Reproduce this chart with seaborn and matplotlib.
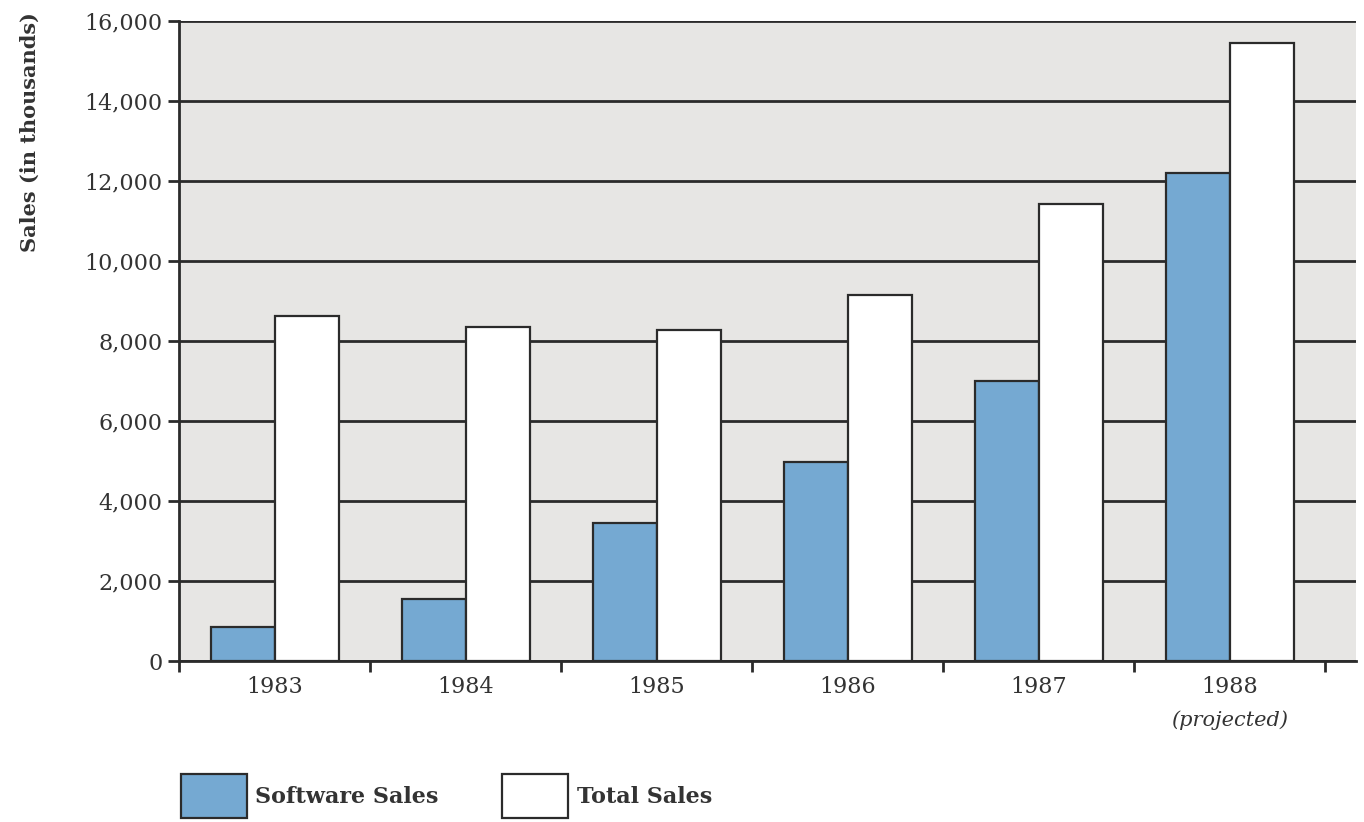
"""
Software sales vs total sales, 1983-1988, grouped bar chart.
"""

import pandas as pd
import seaborn as sns
import matplotlib.pyplot as plt

# chart values (thousands)
years = ["1983", "1984", "1985", "1986", "1987", "1988"]
software_sales = [850, 1550, 3450, 4975, 7000, 12200]
total_sales = [8625, 8350, 8275, 9150, 11425, 15450]
series_names = ["Software Sales", "Total Sales"]
y_ticks = [0, 2000, 4000, 6000, 8000, 10000, 12000, 14000, 16000]

BLUE = "#75a9d2"
EDGE = "#2b2b2b"
INK = "#333333"

sns.set_theme(style="white", rc={
    "axes.facecolor": "#e7e6e4",
    "axes.edgecolor": EDGE,
    "grid.color": EDGE,
    "grid.linewidth": 2.0,
})
plt.rcParams["font.family"] = ["DejaVu Serif", "DejaVu Sans"]


def build_frame():
    """ Long-form dataframe for seaborn. """
    frames = []
    for name, vals in zip(series_names, [software_sales, total_sales]):
        frames.append(pd.DataFrame({"Year": years, "Series": name,
                                    "Sales": vals}))
    return pd.concat(frames, ignore_index=True)


def plot(data):
    fig = plt.figure(figsize=(13.64, 8.22), dpi=100)
    ax = fig.add_axes([179 / 1364, 1 - 661 / 822,
                       1177 / 1364, 640 / 822])
    sns.barplot(data=data, x="Year", y="Sales", hue="Series",
                palette=[BLUE, "white"], width=0.67, gap=0,
                edgecolor=EDGE, linewidth=1.6, errorbar=None,
                saturation=1, ax=ax, zorder=3)

    ax.set_axisbelow(True)
    ax.yaxis.grid(True, zorder=0)
    ax.set_ylim(0, 16000)
    ax.set_xlim(-0.5, 5.66)
    ax.set_yticks(y_ticks)
    ax.set_yticklabels([f"{v:,}" for v in y_ticks])

    # group boundaries get the tick marks, years sit in between
    ax.set_xticks([i - 0.5 for i in range(len(years) + 1)], minor=True)
    ax.tick_params(axis="x", which="major", length=0, pad=11,
                   labelsize=16, labelcolor=INK)
    ax.tick_params(axis="x", which="minor", length=8, width=2,
                   color=EDGE, direction="out", bottom=True)
    ax.tick_params(axis="y", length=8, width=2, color=EDGE,
                   direction="out", left=True, pad=4,
                   labelsize=16, labelcolor=INK)
    ax.text(5, -0.092, "(projected)", transform=ax.get_xaxis_transform(),
            ha="center", va="center", style="italic", fontsize=15,
            color=INK)

    for side in ["top", "right"]:
        ax.spines[side].set_visible(False)
    ax.spines["left"].set_linewidth(2)
    ax.spines["bottom"].set_linewidth(2)

    ax.set_xlabel("")
    ax.set_ylabel("Sales (in thousands)", fontsize=15, fontweight="bold",
                  color=INK, loc="top")
    ax.yaxis.set_label_coords(-0.118, 1.014)

    handles, labels = ax.get_legend_handles_labels()
    ax.get_legend().remove()
    leg = fig.legend(handles, labels, loc="lower left",
                     bbox_to_anchor=(181 / 1364, 4 / 822), ncol=2,
                     frameon=False, fontsize=16, handlelength=2.95,
                     handleheight=2.65, handletextpad=0.4,
                     columnspacing=2.85, borderpad=0, borderaxespad=0)
    for t in leg.get_texts():
        t.set_fontweight("bold")
        t.set_color(INK)

    fig.savefig("out.png", dpi=100)
    plt.close(fig)


def main():
    plot(build_frame())


if __name__ == '__main__':
    main()
